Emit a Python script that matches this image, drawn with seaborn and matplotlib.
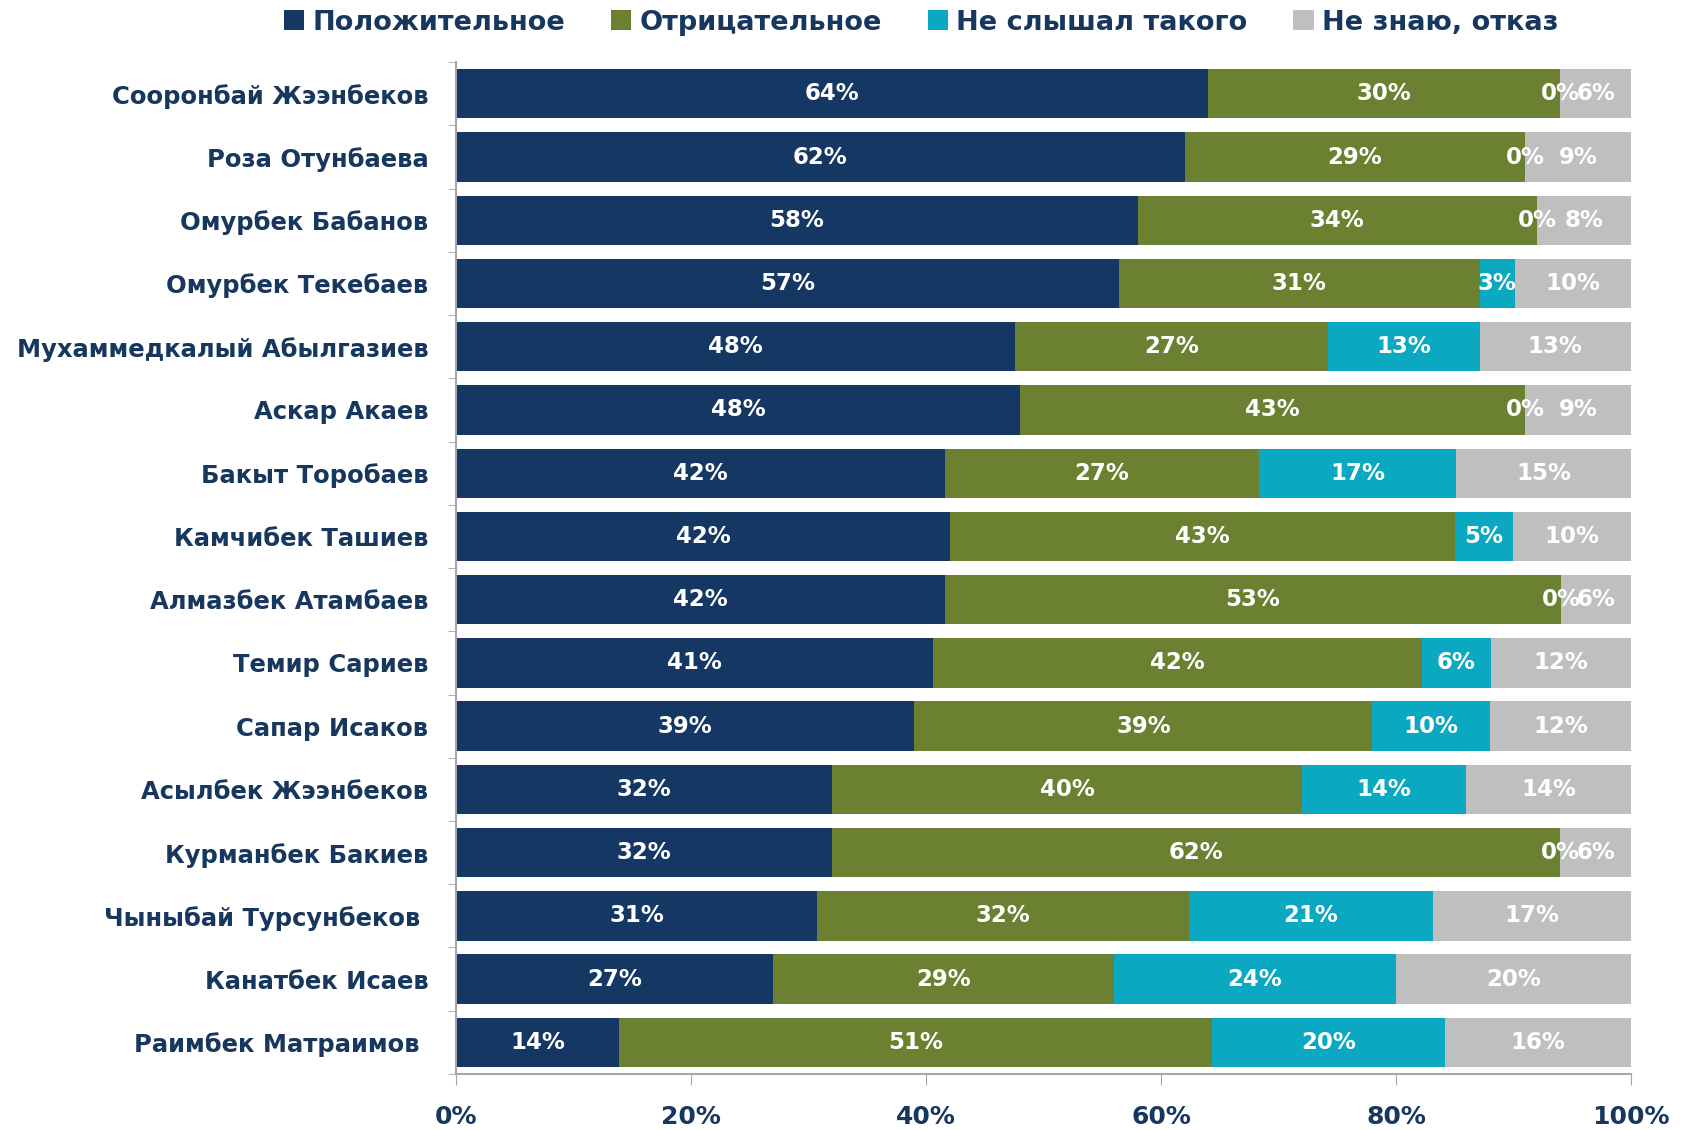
import numpy as np
import pandas as pd
import matplotlib.pyplot as plt
import seaborn as sns

# данные
names = ["Сооронбай Жээнбеков", "Роза Отунбаева", "Омурбек Бабанов", "Омурбек Текебаев",
         "Мухаммедкалый Абылгазиев", "Аскар Акаев", "Бакыт Торобаев", "Камчибек Ташиев",
         "Алмазбек Атамбаев", "Темир Сариев", "Сапар Исаков", "Асылбек Жээнбеков",
         "Курманбек Бакиев", "Чыныбай Турсунбеков ", "Канатбек Исаев", "Раимбек Матраимов "]
positive = [64, 62, 58, 57, 48, 48, 42, 42, 42, 41, 39, 32, 32, 31, 27, 14]
negative = [30, 29, 34, 31, 27, 43, 27, 43, 53, 42, 39, 40, 62, 32, 29, 51]
never_heard = [0, 0, 0, 3, 13, 0, 17, 5, 0, 6, 10, 14, 0, 21, 24, 20]
dont_know = [6, 9, 8, 10, 13, 9, 15, 10, 6, 12, 12, 14, 6, 17, 20, 16]

series = ["Положительное", "Отрицательное", "Не слышал такого", "Не знаю, отказ"]
colors = ["#153763", "#6B8131", "#0BA8C1", "#BFBFBF"]
text_color = "#17375E"

df = pd.DataFrame({"name": names, series[0]: positive, series[1]: negative,
                   series[2]: never_heard, series[3]: dont_know})
vals = df[series]
shares = vals.div(vals.sum(axis=1), axis=0) * 100
cum = shares.cumsum(axis=1)

sns.set_style("white")
plt.rcParams['font.family'] = ['DejaVu Sans']

fig = plt.figure(figsize=(16.9, 11.3), dpi=100)
ax = fig.add_subplot(111)
fig.subplots_adjust(left=0.27, right=0.965, bottom=0.0496, top=0.945)

# накопленные столбцы рисуем с конца
for s, c in reversed(list(zip(series, colors))):
    sns.barplot(x=cum[s], y=df["name"], order=names, orient="h", color=c,
                saturation=1, width=0.78, label=s, linewidth=0, ax=ax)
if ax.get_legend() is not None:
    ax.get_legend().remove()

# подписи значений
for i in range(len(names)):
    for s in series:
        center = cum[s].iloc[i] - shares[s].iloc[i] / 2
        ax.text(center, i, f"{vals[s].iloc[i]}%", ha="center", va="center",
                color="white", fontsize=16.5, fontweight="bold")

ax.set_xlim(0, 100)
ax.set_ylim(len(names) - 0.5, -0.5)
ax.set_xticks(np.arange(0, 101, 20))
ax.set_xticklabels([f"{t}%" for t in range(0, 101, 20)])
ax.set_xlabel("")
ax.set_ylabel("")

ax.set_yticks(np.arange(-0.5, len(names)), minor=True)
ax.tick_params(axis="y", which="major", length=0, pad=20, labelsize=17.5, labelcolor=text_color)
ax.tick_params(axis="y", which="minor", length=6, color="#A6A6A6", left=True)
ax.tick_params(axis="x", which="major", length=8, color="#A6A6A6", bottom=True, pad=14,
               labelsize=18, labelcolor=text_color)
for lab in ax.get_yticklabels() + ax.get_xticklabels():
    lab.set_fontweight("bold")

sns.despine(ax=ax)
for sp in ["left", "bottom"]:
    ax.spines[sp].set_color("#A6A6A6")
    ax.spines[sp].set_linewidth(1.5)

# легенда в правильном порядке
handles, labels = ax.get_legend_handles_labels()
order = [labels.index(s) for s in series]
leg = fig.legend([handles[k] for k in order], series, loc="center", bbox_to_anchor=(0.545, 0.98),
                 ncol=4, frameon=False, handlelength=0.75, handleheight=0.75, handletextpad=0.3,
                 columnspacing=1.7, prop={"size": 19.5, "weight": "bold"})
for t in leg.get_texts():
    t.set_color(text_color)

fig.savefig("out.png", dpi=100)
